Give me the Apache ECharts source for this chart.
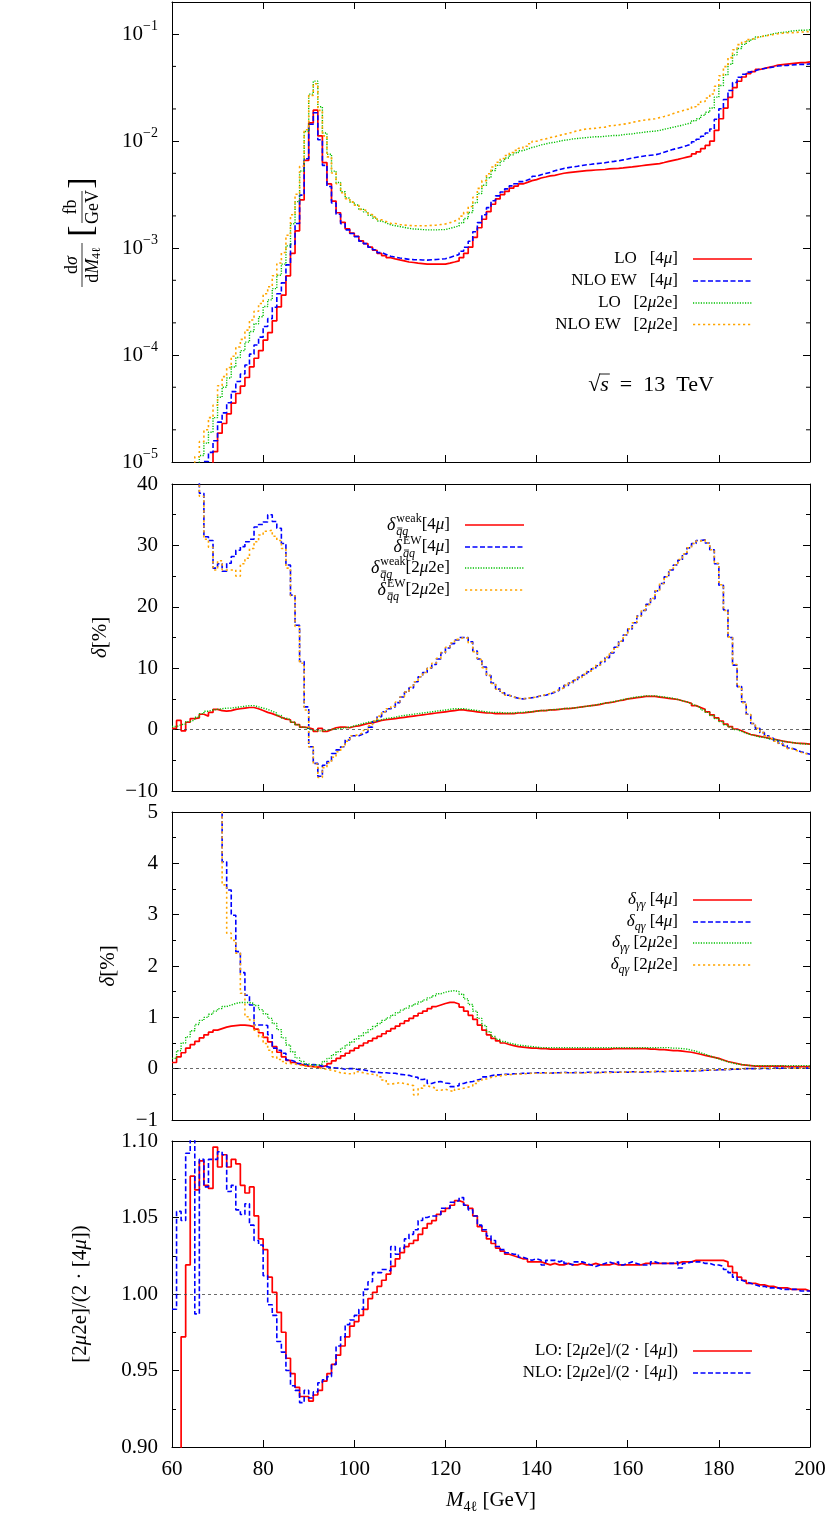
<!DOCTYPE html>
<html>
<head>
<meta charset="utf-8">
<script src="https://cdn.jsdelivr.net/npm/echarts@6/dist/echarts.min.js"></script>
<style>
html, body { margin: 0; padding: 0; background: #fff; }
#chart { width: 830px; height: 1517px; }
</style>
</head>
<body>
<div id="chart"></div>
<script>
// bin lower edges, 1 GeV bins from 60 to 200 GeV
const massEdges = Array.from({ length: 141 }, (_, i) => 60 + i);

// panel 1: dsigma/dM4l [fb/GeV]
const loFourMu = [
  2.0e-6, 2.5e-6, 3.2e-6, 3.9e-6, 4.5e-6, 5.2e-6, 6.3e-6, 7.7e-6, 9.4e-6, 1.25e-5,
  1.86e-5, 2.29e-5, 2.82e-5, 3.55e-5, 4.37e-5, 5.13e-5, 6.17e-5, 7.76e-5, 9.33e-5, 1.10e-4,
  1.38e-4, 1.62e-4, 2.09e-4, 2.82e-4, 3.63e-4, 5.50e-4, 8.91e-4, 1.45e-3, 2.82e-3, 6.61e-3,
  1.48e-2, 1.95e-2, 1.12e-2, 6.31e-3, 3.98e-3, 2.75e-3, 2.14e-3, 1.74e-3, 1.51e-3, 1.38e-3,
  1.29e-3, 1.17e-3, 1.10e-3, 1.02e-3, 9.55e-4, 8.91e-4, 8.51e-4, 8.13e-4, 7.94e-4, 7.76e-4,
  7.59e-4, 7.41e-4, 7.33e-4, 7.24e-4, 7.16e-4, 7.08e-4, 7.08e-4, 7.08e-4, 7.08e-4, 7.08e-4,
  7.24e-4, 7.41e-4, 7.59e-4, 8.13e-4, 8.91e-4, 1.02e-3, 1.26e-3, 1.55e-3, 1.86e-3, 2.19e-3,
  2.57e-3, 2.88e-3, 3.16e-3, 3.39e-3, 3.63e-3, 3.80e-3, 3.98e-3, 4.12e-3, 4.27e-3, 4.37e-3,
  4.52e-3, 4.62e-3, 4.73e-3, 4.79e-3, 4.90e-3, 5.01e-3, 5.07e-3, 5.13e-3, 5.19e-3, 5.25e-3,
  5.31e-3, 5.34e-3, 5.37e-3, 5.40e-3, 5.43e-3, 5.50e-3, 5.53e-3, 5.56e-3, 5.62e-3, 5.69e-3,
  5.75e-3, 5.82e-3, 5.89e-3, 5.96e-3, 6.03e-3, 6.10e-3, 6.17e-3, 6.31e-3, 6.46e-3, 6.61e-3,
  6.76e-3, 6.92e-3, 7.08e-3, 7.24e-3, 7.59e-3, 7.94e-3, 8.51e-3, 9.12e-3, 1.00e-2, 1.26e-2,
  1.62e-2, 2.04e-2, 2.57e-2, 3.16e-2, 3.63e-2, 3.98e-2, 4.27e-2, 4.47e-2, 4.68e-2, 4.79e-2,
  4.90e-2, 5.01e-2, 5.13e-2, 5.19e-2, 5.25e-2, 5.31e-2, 5.37e-2, 5.43e-2, 5.43e-2, 5.50e-2
];
const nloFourMu = [
  3.4e-6, 4.05e-6, 4.96e-6, 5.85e-6, 6.5e-6, 7.3e-6, 8.7e-6, 1.01e-5, 1.23e-5, 1.58e-5,
  2.36e-5, 2.88e-5, 3.58e-5, 4.55e-5, 5.65e-5, 6.66e-5, 8.06e-5, 1.02e-4, 1.24e-4, 1.47e-4,
  1.85e-4, 2.19e-4, 2.80e-4, 3.74e-4, 4.73e-4, 6.97e-4, 1.09e-3, 1.70e-3, 3.13e-3, 6.85e-3,
  1.44e-2, 1.84e-2, 1.03e-2, 5.94e-3, 3.77e-3, 2.64e-3, 2.07e-3, 1.69e-3, 1.48e-3, 1.37e-3,
  1.28e-3, 1.16e-3, 1.10e-3, 1.02e-3, 9.66e-4, 9.08e-4, 8.73e-4, 8.39e-4, 8.22e-4, 8.09e-4,
  7.97e-4, 7.85e-4, 7.81e-4, 7.78e-4, 7.75e-4, 7.72e-4, 7.77e-4, 7.82e-4, 7.88e-4, 7.95e-4,
  8.18e-4, 8.45e-4, 8.70e-4, 9.35e-4, 1.02e-3, 1.16e-3, 1.42e-3, 1.73e-3, 2.05e-3, 2.39e-3,
  2.77e-3, 3.08e-3, 3.35e-3, 3.58e-3, 3.82e-3, 3.99e-3, 4.18e-3, 4.33e-3, 4.49e-3, 4.69e-3,
  4.86e-3, 4.98e-3, 5.10e-3, 5.28e-3, 5.42e-3, 5.56e-3, 5.66e-3, 5.74e-3, 5.83e-3, 5.93e-3,
  6.02e-3, 6.08e-3, 6.15e-3, 6.21e-3, 6.27e-3, 6.40e-3, 6.47e-3, 6.55e-3, 6.68e-3, 6.80e-3,
  6.94e-3, 7.08e-3, 7.19e-3, 7.30e-3, 7.38e-3, 7.45e-3, 7.62e-3, 7.87e-3, 8.13e-3, 8.38e-3,
  8.60e-3, 8.82e-3, 9.09e-3, 9.38e-3, 9.88e-3, 1.04e-2, 1.11e-2, 1.19e-2, 1.30e-2, 1.60e-2,
  2.01e-2, 2.45e-2, 2.98e-2, 3.54e-2, 3.96e-2, 4.22e-2, 4.42e-2, 4.55e-2, 4.71e-2, 4.78e-2,
  4.86e-2, 4.94e-2, 5.04e-2, 5.08e-2, 5.11e-2, 5.15e-2, 5.19e-2, 5.23e-2, 5.22e-2, 5.28e-2
];
const loTwoMuTwoE = [
  2.0e-6, 2.7e-6, 3.9e-6, 5.2e-6, 6.8e-6, 8.6e-6, 1.15e-5, 1.50e-5, 1.90e-5, 2.60e-5,
  4.03e-5, 5.00e-5, 6.11e-5, 7.72e-5, 9.48e-5, 1.10e-4, 1.32e-4, 1.66e-4, 1.96e-4, 2.28e-4,
  2.84e-4, 3.28e-4, 4.18e-4, 5.57e-4, 7.08e-4, 1.05e-3, 1.69e-3, 2.72e-3, 5.26e-3, 1.23e-2,
  2.75e-2, 3.64e-2, 2.10e-2, 1.19e-2, 7.55e-3, 5.25e-3, 4.11e-3, 3.36e-3, 2.94e-3, 2.70e-3,
  2.53e-3, 2.31e-3, 2.18e-3, 2.03e-3, 1.91e-3, 1.79e-3, 1.72e-3, 1.65e-3, 1.62e-3, 1.59e-3,
  1.56e-3, 1.53e-3, 1.51e-3, 1.50e-3, 1.49e-3, 1.48e-3, 1.48e-3, 1.48e-3, 1.49e-3, 1.49e-3,
  1.53e-3, 1.57e-3, 1.61e-3, 1.72e-3, 1.89e-3, 2.15e-3, 2.65e-3, 3.24e-3, 3.87e-3, 4.54e-3,
  5.31e-3, 5.93e-3, 6.50e-3, 6.96e-3, 7.44e-3, 7.78e-3, 8.14e-3, 8.43e-3, 8.72e-3, 8.92e-3,
  9.23e-3, 9.42e-3, 9.64e-3, 9.77e-3, 9.99e-3, 1.02e-2, 1.03e-2, 1.05e-2, 1.06e-2, 1.07e-2,
  1.08e-2, 1.09e-2, 1.10e-2, 1.10e-2, 1.11e-2, 1.12e-2, 1.13e-2, 1.13e-2, 1.15e-2, 1.16e-2,
  1.17e-2, 1.19e-2, 1.20e-2, 1.22e-2, 1.23e-2, 1.24e-2, 1.26e-2, 1.29e-2, 1.32e-2, 1.35e-2,
  1.38e-2, 1.41e-2, 1.45e-2, 1.48e-2, 1.55e-2, 1.62e-2, 1.74e-2, 1.86e-2, 2.04e-2, 2.58e-2,
  3.31e-2, 4.17e-2, 5.23e-2, 6.41e-2, 7.34e-2, 8.03e-2, 8.60e-2, 9.00e-2, 9.42e-2, 9.64e-2,
  9.85e-2, 1.01e-1, 1.03e-1, 1.04e-1, 1.05e-1, 1.07e-1, 1.08e-1, 1.09e-1, 1.09e-1, 1.10e-1
];
const nloTwoMuTwoE = [
  3.5e-6, 4.5e-6, 5.8e-6, 7.2e-6, 8.8e-6, 1.12e-5, 1.55e-5, 2.00e-5, 2.60e-5, 3.40e-5,
  5.16e-5, 6.28e-5, 7.64e-5, 9.75e-5, 1.19e-4, 1.40e-4, 1.71e-4, 2.13e-4, 2.57e-4, 3.03e-4,
  3.74e-4, 4.35e-4, 5.52e-4, 7.25e-4, 9.10e-4, 1.32e-3, 2.05e-3, 3.19e-3, 5.82e-3, 1.28e-2,
  2.68e-2, 3.44e-2, 1.94e-2, 1.12e-2, 7.13e-3, 5.04e-3, 4.00e-3, 3.29e-3, 2.90e-3, 2.69e-3,
  2.52e-3, 2.30e-3, 2.21e-3, 2.06e-3, 1.96e-3, 1.84e-3, 1.77e-3, 1.70e-3, 1.70e-3, 1.66e-3,
  1.64e-3, 1.63e-3, 1.62e-3, 1.62e-3, 1.62e-3, 1.62e-3, 1.63e-3, 1.64e-3, 1.66e-3, 1.68e-3,
  1.73e-3, 1.79e-3, 1.85e-3, 1.99e-3, 2.16e-3, 2.45e-3, 2.98e-3, 3.62e-3, 4.27e-3, 4.96e-3,
  5.73e-3, 6.35e-3, 6.89e-3, 7.35e-3, 7.84e-3, 8.19e-3, 8.56e-3, 8.95e-3, 9.45e-3, 9.97e-3,
  1.03e-2, 1.05e-2, 1.08e-2, 1.10e-2, 1.13e-2, 1.16e-2, 1.18e-2, 1.22e-2, 1.25e-2, 1.28e-2,
  1.30e-2, 1.31e-2, 1.32e-2, 1.34e-2, 1.35e-2, 1.39e-2, 1.40e-2, 1.42e-2, 1.44e-2, 1.46e-2,
  1.50e-2, 1.53e-2, 1.56e-2, 1.58e-2, 1.60e-2, 1.62e-2, 1.66e-2, 1.70e-2, 1.75e-2, 1.81e-2,
  1.87e-2, 1.92e-2, 1.98e-2, 2.00e-2, 2.10e-2, 2.20e-2, 2.35e-2, 2.53e-2, 2.76e-2, 3.26e-2,
  4.09e-2, 4.98e-2, 6.04e-2, 7.16e-2, 7.99e-2, 8.51e-2, 8.90e-2, 9.15e-2, 9.47e-2, 9.61e-2,
  9.76e-2, 9.92e-2, 1.01e-1, 1.02e-1, 1.03e-1, 1.03e-1, 1.04e-1, 1.05e-1, 1.05e-1, 1.06e-1
];

// panel 2: delta_qq [%]
const weakFourMu = [
  0.2, 1.5, -0.2, 1.2, 1.8, 1.9, 2.5, 2.2, 2.8, 3.3,
  3.1, 3.0, 3.1, 3.3, 3.4, 3.5, 3.6, 3.6, 3.4, 3.1,
  2.8, 2.6, 2.3, 2.0, 1.7, 1.6, 1.2, 0.8, 0.4, 0.3,
  0.1, -0.3, 0.2, -0.3, 0.0, 0.3, 0.4, 0.4, 0.3, 0.5,
  0.6, 0.8, 1.0, 1.1, 1.3, 1.5, 1.6, 1.7, 1.8, 1.9,
  2.0, 2.1, 2.2, 2.3, 2.4, 2.5, 2.6, 2.7, 2.8, 2.9,
  3.0, 3.1, 3.2, 3.2, 3.1, 3.0, 2.9, 2.8, 2.7, 2.7,
  2.6, 2.6, 2.6, 2.6, 2.6, 2.7, 2.7, 2.8, 2.9, 3.0,
  3.1, 3.1, 3.2, 3.2, 3.3, 3.4, 3.4, 3.5, 3.6, 3.7,
  3.8, 3.9, 4.0, 4.1, 4.3, 4.4, 4.5, 4.7, 4.8, 5.0,
  5.1, 5.2, 5.3, 5.4, 5.4, 5.4, 5.3, 5.2, 5.1, 5.0,
  4.9, 4.7, 4.5, 4.3, 3.9, 3.6, 3.3, 2.9, 2.4, 1.9,
  1.4, 0.9, 0.5, 0.1, -0.2, -0.5, -0.8, -0.95, -1.1, -1.25,
  -1.4, -1.55, -1.7, -1.85, -2.0, -2.1, -2.2, -2.25, -2.3, -2.35
];
const ewFourMu = [
  70, 62, 55, 50, 45, 41, 38.5, 31.4, 30.8, 26.3,
  27.0, 25.8, 27.1, 28.2, 29.2, 29.8, 30.6, 31.0, 33.0, 33.4,
  33.8, 35.0, 33.9, 32.8, 30.3, 26.8, 21.9, 17.0, 11.1, 3.7,
  -2.8, -5.5, -7.6, -5.8, -5.2, -3.9, -3.3, -2.8, -1.7, -1.0,
  -1.0, -0.7, -0.4, 0.4, 1.3, 2.1, 2.9, 3.4, 3.7, 4.4,
  5.3, 6.1, 6.8, 7.8, 8.6, 9.3, 10.0, 10.6, 11.5, 12.5,
  13.3, 14.0, 14.6, 15.0, 15.0, 14.3, 12.8, 11.5, 10.2, 8.8,
  7.6, 6.6, 6.0, 5.6, 5.3, 5.1, 5.0, 5.1, 5.2, 5.3,
  5.5, 5.6, 5.8, 6.1, 6.4, 6.8, 7.2, 7.6, 8.0, 8.5,
  8.9, 9.4, 9.9, 10.4, 11.0, 11.7, 12.5, 13.4, 14.4, 15.4,
  16.4, 17.4, 18.5, 19.4, 20.4, 21.3, 22.6, 23.8, 24.9, 26.0,
  26.8, 27.6, 28.6, 29.6, 30.3, 30.8, 30.9, 30.4, 29.3, 27.0,
  23.5, 19.5, 15.0, 10.5, 7.0, 4.5, 2.5, 1.0, 0.2, -0.5,
  -1.0, -1.4, -1.8, -2.2, -2.6, -3.0, -3.3, -3.6, -3.8, -4.0
];
const weakTwoMuTwoE = [
  0.5, 0.8, 0.9, 1.3, 1.6, 2.0, 2.6, 3.0, 3.2, 3.3,
  3.4, 3.5, 3.5, 3.6, 3.7, 3.8, 3.9, 3.9, 3.7, 3.5,
  3.3, 3.0, 2.7, 2.3, 1.9, 1.6, 1.2, 0.8, 0.4, 0.1,
  -0.1, -0.2, -0.2, -0.1, 0.0, 0.1, 0.2, 0.3, 0.4, 0.6,
  0.8, 1.0, 1.2, 1.3, 1.5, 1.6, 1.8, 1.9, 2.0, 2.2,
  2.3, 2.4, 2.5, 2.6, 2.7, 2.8, 2.9, 3.0, 3.1, 3.2,
  3.3, 3.4, 3.4, 3.4, 3.3, 3.2, 3.1, 3.0, 2.9, 2.8,
  2.8, 2.8, 2.7, 2.7, 2.7, 2.8, 2.8, 2.9, 2.9, 3.0,
  3.1, 3.1, 3.2, 3.3, 3.3, 3.4, 3.5, 3.5, 3.6, 3.7,
  3.8, 3.9, 4.0, 4.2, 4.3, 4.4, 4.6, 4.7, 4.9, 5.0,
  5.2, 5.3, 5.4, 5.5, 5.5, 5.5, 5.4, 5.3, 5.2, 5.1,
  4.9, 4.7, 4.5, 4.2, 3.9, 3.6, 3.2, 2.8, 2.3, 1.8,
  1.3, 0.8, 0.4, 0.0, -0.3, -0.6, -0.8, -1.0, -1.2, -1.3,
  -1.5, -1.6, -1.75, -1.9, -2.0, -2.1, -2.2, -2.3, -2.35, -2.4
];
const ewTwoMuTwoE = [
  68, 60, 53, 48, 44, 41, 38.0, 31.0, 29.7, 26.0,
  27.5, 26.0, 26.0, 26.0, 25.0, 27.0, 27.9, 29.5, 30.6, 31.7,
  32.3, 32.5, 31.5, 30.8, 29.5, 26.3, 21.8, 16.8, 10.8, 3.2,
  -2.8, -5.6, -7.8, -6.2, -5.4, -4.5, -3.6, -2.8, -1.9, -1.0,
  -0.8, -0.5, -0.1, 0.6, 1.4, 2.2, 2.9, 3.4, 3.8, 4.5,
  5.3, 6.1, 6.9, 7.8, 8.6, 9.3, 10.1, 10.8, 11.6, 12.6,
  13.4, 14.1, 14.7, 15.0, 14.9, 14.1, 12.7, 11.4, 10.1, 8.8,
  7.5, 6.6, 6.0, 5.6, 5.3, 5.1, 5.0, 5.1, 5.2, 5.3,
  5.5, 5.7, 5.9, 6.2, 6.5, 6.8, 7.2, 7.7, 8.1, 8.5,
  9.0, 9.5, 10.0, 10.5, 11.1, 11.8, 12.6, 13.4, 14.4, 15.4,
  16.4, 17.4, 18.5, 19.5, 20.4, 21.4, 22.6, 23.8, 24.9, 26.0,
  26.8, 27.7, 28.6, 29.6, 30.3, 30.7, 30.9, 30.4, 29.3, 27.1,
  23.6, 19.4, 15.1, 10.6, 7.0, 4.4, 2.5, 1.0, 0.2, -0.5,
  -1.0, -1.5, -1.9, -2.3, -2.7, -3.1, -3.4, -3.7, -3.9, -4.1
];

// panel 3: photon-induced corrections [%]
const gamGamFourMu = [
  0.12, 0.23, 0.31, 0.40, 0.47, 0.53, 0.60, 0.66, 0.71, 0.75,
  0.78, 0.81, 0.83, 0.84, 0.85, 0.85, 0.84, 0.82, 0.77, 0.70,
  0.61, 0.52, 0.43, 0.32, 0.23, 0.16, 0.12, 0.09, 0.07, 0.05,
  0.04, 0.03, 0.04, 0.06, 0.10, 0.15, 0.20, 0.25, 0.30, 0.35,
  0.40, 0.45, 0.50, 0.54, 0.59, 0.63, 0.68, 0.73, 0.78, 0.83,
  0.88, 0.93, 0.98, 1.03, 1.08, 1.12, 1.17, 1.21, 1.24, 1.27,
  1.29, 1.29, 1.26, 1.20, 1.12, 1.04, 0.96, 0.85, 0.75, 0.66,
  0.59, 0.54, 0.50, 0.47, 0.45, 0.43, 0.42, 0.41, 0.40, 0.40,
  0.39, 0.39, 0.38, 0.38, 0.38, 0.38, 0.38, 0.38, 0.38, 0.38,
  0.38, 0.38, 0.38, 0.38, 0.38, 0.38, 0.39, 0.39, 0.39, 0.39,
  0.39, 0.39, 0.39, 0.39, 0.38, 0.38, 0.37, 0.37, 0.36, 0.35,
  0.35, 0.34, 0.33, 0.32, 0.30, 0.28, 0.26, 0.24, 0.22, 0.20,
  0.17, 0.14, 0.12, 0.10, 0.08, 0.07, 0.06, 0.05, 0.05, 0.05,
  0.05, 0.05, 0.05, 0.05, 0.04, 0.04, 0.04, 0.04, 0.04, 0.04
];
const qGamFourMu = [
  30, 25, 20, 16, 13, 11, 9.5, 8.2, 7.0, 6.0,
  5.2, 4.03, 3.48, 2.99, 2.28, 1.87, 1.43, 1.24, 0.85, 0.85,
  0.84, 0.66, 0.40, 0.36, 0.30, 0.17, 0.14, 0.10, 0.09, 0.07,
  0.08, 0.07, 0.05, 0.04, 0.02, 0.01, 0.01, -0.01, 0.00, 0.00,
  -0.02, -0.02, -0.04, -0.06, -0.07, -0.08, -0.08, -0.09, -0.09, -0.11,
  -0.12, -0.13, -0.16, -0.17, -0.21, -0.20, -0.29, -0.26, -0.25, -0.28,
  -0.29, -0.35, -0.33, -0.29, -0.26, -0.25, -0.22, -0.20, -0.16, -0.14,
  -0.12, -0.12, -0.11, -0.11, -0.10, -0.10, -0.09, -0.09, -0.09, -0.08,
  -0.08, -0.08, -0.09, -0.08, -0.08, -0.07, -0.08, -0.08, -0.07, -0.08,
  -0.07, -0.07, -0.08, -0.07, -0.07, -0.06, -0.07, -0.07, -0.06, -0.07,
  -0.06, -0.06, -0.07, -0.06, -0.06, -0.06, -0.05, -0.06, -0.05, -0.05,
  -0.05, -0.05, -0.04, -0.05, -0.04, -0.04, -0.03, -0.03, -0.03, -0.02,
  -0.02, -0.02, -0.01, -0.01, -0.01, 0.00, 0.00, 0.00, 0.00, 0.01,
  0.00, 0.01, 0.01, 0.01, 0.01, 0.01, 0.01, 0.01, 0.01, 0.01
];
const gamGamTwoMuTwoE = [
  0.20, 0.35, 0.50, 0.62, 0.74, 0.86, 0.94, 1.00, 1.06, 1.12,
  1.17, 1.21, 1.24, 1.27, 1.29, 1.29, 1.29, 1.27, 1.23, 1.15,
  1.07, 0.98, 0.88, 0.76, 0.60, 0.46, 0.33, 0.21, 0.14, 0.09,
  0.07, 0.07, 0.09, 0.14, 0.20, 0.27, 0.33, 0.40, 0.46, 0.52,
  0.58, 0.64, 0.70, 0.76, 0.82, 0.88, 0.94, 0.99, 1.04, 1.09,
  1.14, 1.18, 1.22, 1.26, 1.30, 1.34, 1.38, 1.42, 1.46, 1.49,
  1.51, 1.52, 1.50, 1.45, 1.36, 1.25, 1.12, 0.98, 0.84, 0.72,
  0.63, 0.57, 0.53, 0.50, 0.48, 0.46, 0.45, 0.44, 0.43, 0.42,
  0.41, 0.41, 0.41, 0.41, 0.41, 0.41, 0.41, 0.41, 0.41, 0.41,
  0.41, 0.41, 0.41, 0.41, 0.41, 0.41, 0.41, 0.41, 0.41, 0.41,
  0.41, 0.41, 0.41, 0.41, 0.41, 0.41, 0.41, 0.41, 0.41, 0.40,
  0.40, 0.39, 0.38, 0.36, 0.34, 0.31, 0.28, 0.25, 0.22, 0.19,
  0.16, 0.13, 0.11, 0.09, 0.08, 0.07, 0.06, 0.06, 0.06, 0.06,
  0.06, 0.06, 0.06, 0.06, 0.06, 0.06, 0.06, 0.06, 0.06, 0.06
];
const qGamTwoMuTwoE = [
  28, 23, 19, 15, 12.5, 10.5, 9.0, 7.8, 6.7, 5.8,
  5.1, 3.58, 2.64, 2.50, 2.25, 1.47, 1.01, 0.95, 0.75, 0.62,
  0.49, 0.36, 0.23, 0.18, 0.14, 0.10, 0.09, 0.07, 0.05, 0.05,
  0.04, 0.02, 0.00, -0.01, -0.03, -0.05, -0.08, -0.09, -0.10, -0.10,
  -0.06, -0.08, -0.10, -0.11, -0.12, -0.16, -0.22, -0.30, -0.29, -0.27,
  -0.29, -0.31, -0.33, -0.51, -0.38, -0.33, -0.36, -0.38, -0.42, -0.40,
  -0.43, -0.45, -0.40, -0.38, -0.36, -0.34, -0.29, -0.24, -0.20, -0.17,
  -0.15, -0.14, -0.12, -0.12, -0.11, -0.11, -0.10, -0.10, -0.09, -0.09,
  -0.09, -0.08, -0.09, -0.08, -0.09, -0.08, -0.08, -0.08, -0.08, -0.09,
  -0.08, -0.08, -0.07, -0.08, -0.07, -0.08, -0.07, -0.07, -0.07, -0.06,
  -0.07, -0.06, -0.06, -0.07, -0.06, -0.05, -0.06, -0.05, -0.05, -0.05,
  -0.05, -0.04, -0.05, -0.04, -0.04, -0.03, -0.03, -0.03, -0.02, -0.02,
  -0.02, -0.01, -0.01, -0.01, 0.00, 0.00, 0.00, 0.00, 0.01, 0.01,
  0.01, 0.01, 0.00, 0.01, 0.01, 0.01, 0.01, 0.01, 0.01, 0.01
];

// panel 4: [2mu2e] / (2 [4mu])
const ratioLO = [
  0.75, 0.82, 0.972, 1.019, 1.077, 1.068, 1.087, 1.071, 1.069, 1.096,
  1.083, 1.091, 1.083, 1.088, 1.085, 1.071, 1.066, 1.070, 1.051, 1.036,
  1.029, 1.011, 1.001, 0.988, 0.975, 0.958, 0.948, 0.939, 0.933, 0.933,
  0.930, 0.934, 0.937, 0.943, 0.948, 0.954, 0.960, 0.966, 0.972, 0.979,
  0.982, 0.986, 0.990, 0.997, 1.001, 1.005, 1.009, 1.013, 1.018, 1.023,
  1.027, 1.031, 1.033, 1.035, 1.039, 1.043, 1.046, 1.048, 1.052, 1.054,
  1.056, 1.058, 1.061, 1.060, 1.058, 1.056, 1.051, 1.044, 1.041, 1.036,
  1.033, 1.030, 1.028, 1.026, 1.025, 1.024, 1.023, 1.023, 1.021, 1.021,
  1.021, 1.020, 1.019, 1.020, 1.019, 1.019, 1.020, 1.019, 1.019, 1.020,
  1.019, 1.019, 1.020, 1.019, 1.019, 1.019, 1.020, 1.019, 1.019, 1.019,
  1.019, 1.019, 1.019, 1.020, 1.020, 1.020, 1.020, 1.020, 1.020, 1.020,
  1.020, 1.021, 1.021, 1.021, 1.022, 1.022, 1.022, 1.022, 1.022, 1.022,
  1.022, 1.021, 1.018, 1.014, 1.011, 1.009, 1.007, 1.007, 1.006, 1.006,
  1.005, 1.005, 1.004, 1.004, 1.004, 1.003, 1.003, 1.003, 1.003, 1.002
];
const ratioNLO = [
  0.990, 1.054, 1.048, 1.092, 1.101, 0.987, 1.088, 1.070, 1.088, 1.088,
  1.093, 1.091, 1.067, 1.071, 1.055, 1.052, 1.059, 1.045, 1.035, 1.032,
  1.012, 0.993, 0.986, 0.969, 0.962, 0.950, 0.940, 0.937, 0.929, 0.937,
  0.932, 0.936, 0.942, 0.944, 0.946, 0.954, 0.966, 0.972, 0.980, 0.983,
  0.986, 0.990, 1.003, 1.008, 1.014, 1.014, 1.016, 1.015, 1.031, 1.026,
  1.030, 1.036, 1.039, 1.042, 1.048, 1.050, 1.051, 1.051, 1.052, 1.056,
  1.056, 1.060, 1.061, 1.063, 1.058, 1.055, 1.051, 1.045, 1.042, 1.038,
  1.035, 1.031, 1.029, 1.027, 1.026, 1.026, 1.024, 1.023, 1.022, 1.023,
  1.022, 1.019, 1.022, 1.022, 1.021, 1.022, 1.020, 1.019, 1.021, 1.021,
  1.020, 1.019, 1.018, 1.019, 1.020, 1.021, 1.020, 1.021, 1.019, 1.020,
  1.021, 1.020, 1.019, 1.019, 1.019, 1.021, 1.020, 1.020, 1.020, 1.020,
  1.021, 1.017, 1.020, 1.021, 1.021, 1.021, 1.020, 1.020, 1.019, 1.019,
  1.018, 1.016, 1.014, 1.011, 1.009, 1.008, 1.007, 1.006, 1.005, 1.005,
  1.004, 1.004, 1.004, 1.003, 1.003, 1.003, 1.003, 1.002, 1.002, 1.002
];

// minor ticks of the log axis (2 and 5 per decade)
const logMinorTicks = [2e-5, 5e-5, 2e-4, 5e-4, 2e-3, 5e-3, 2e-2, 5e-2];

const FONT = '"Liberation Serif", "Times New Roman", serif';
const chart = echarts.init(document.getElementById('chart'));

// one histogram step line: each value is held over its 1 GeV bin
function histo(values) {
  const pts = values.map((v, i) => [massEdges[i], v]);
  pts.push([massEdges[values.length], values[values.length - 1]]);
  return pts;
}

const STY = {
  red:    { color: '#ff0000', width: 1.7, type: 'solid', dash: null },
  blue:   { color: '#0000ff', width: 1.6, type: [5, 2.5], dash: [5, 2.5] },
  green:  { color: '#00c000', width: 1.4, type: [1.2, 1.4], dash: [1.2, 1.4] },
  orange: { color: '#ffa500', width: 1.6, type: [2.2, 2.8], dash: [2.2, 2.8] }
};

function histSeries(name, values, panel, sty, extra) {
  return Object.assign({
    type: 'line', name: name, data: histo(values), step: 'end',
    xAxisIndex: panel * 2, yAxisIndex: panel * 2,
    showSymbol: false, symbol: 'none', clip: true, silent: true,
    lineStyle: { color: sty.color, width: sty.width, type: sty.type },
    itemStyle: { color: sty.color }
  }, extra || {});
}

function zeroLine(v) {
  return {
    markLine: {
      silent: true, symbol: 'none', label: { show: false }, animation: false,
      lineStyle: { color: '#444', type: [3, 3], width: 0.8 },
      data: [{ yAxis: v }]
    }
  };
}

const panels = [
  { top: 2, height: 460 },
  { top: 484, height: 307 },
  { top: 812, height: 308 },
  { top: 1141, height: 306 }
];

const richText = {
  i: { fontStyle: 'italic', fontSize: 21, fontFamily: FONT, lineHeight: 28 },
  sub: { fontSize: 14, fontFamily: FONT, verticalAlign: 'bottom', lineHeight: 13 },
  b: { fontSize: 21, fontFamily: FONT, lineHeight: 30 },
  s: { fontSize: 14, fontFamily: FONT, verticalAlign: 'top', lineHeight: 14 }
};

const lineCol = { color: '#000', width: 1 };
const grids = [], xAxes = [], yAxes = [];

panels.forEach((p, i) => {
  grids.push({ left: 172, right: 20, top: p.top, height: p.height, containLabel: false, outerBoundsMode: 'none' });
  const xBase = {
    gridIndex: i, type: 'value', min: 60, max: 200, interval: 20,
    axisLine: { show: true, onZero: false, lineStyle: lineCol },
    axisTick: { show: true, inside: true, length: 7, lineStyle: lineCol },
    splitLine: { show: false }
  };
  xAxes.push(Object.assign({}, xBase, {
    position: 'bottom',
    axisLabel: { show: i === 3, margin: 12, fontSize: 21, fontFamily: FONT, color: '#000' },
    name: i === 3 ? '{i|M}{sub|4ℓ} [GeV]' : '',
    nameLocation: 'middle', nameGap: 39,
    nameTextStyle: { fontSize: 21, fontFamily: FONT, color: '#000', lineHeight: 28, rich: richText }
  }));
  xAxes.push(Object.assign({}, xBase, { position: 'top', axisLabel: { show: false } }));
});

function minusFmt(v) { return v < 0 ? '−' + Math.abs(v) : String(v); }
function powLabel(v) {
  const lg = Math.log10(v), e = Math.round(lg);
  if (Math.abs(lg - e) > 1e-6) return '';
  return '{b|10}{s|−' + (-e) + '}';
}

const yScales = [
  { type: 'log', logBase: 10, min: 1e-5, max: 0.2, fmt: powLabel, minor: false },
  { type: 'value', min: -10, max: 40, interval: 10, fmt: minusFmt, minor: true,
    name: '{i|δ}[%]', gap: 50 },
  { type: 'value', min: -1, max: 5, interval: 1, fmt: minusFmt, minor: true,
    name: '{i|δ}[%]', gap: 50 },
  { type: 'value', min: 0.9, max: 1.1, interval: 0.05, fmt: v => v.toFixed(2), minor: true,
    name: '[2{i|μ}2e]/(2 · [4{i|μ}])', gap: 78 }
];

yScales.forEach((s, i) => {
  const yBase = {
    gridIndex: i, type: s.type, min: s.min, max: s.max,
    axisLine: { show: true, onZero: false, lineStyle: lineCol },
    axisTick: { show: true, inside: true, length: 7, lineStyle: lineCol },
    minorTick: { show: s.minor, splitNumber: 2, length: 4, lineStyle: lineCol },
    splitLine: { show: false }
  };
  if (s.type === 'log') yBase.logBase = 10;
  if (s.interval) yBase.interval = s.interval;
  yAxes.push(Object.assign({}, yBase, {
    position: 'left',
    axisLabel: { show: true, margin: 14, fontSize: 21, fontFamily: FONT, color: '#000',
      formatter: s.fmt, rich: richText, hideOverlap: false },
    name: s.name || '', nameLocation: 'middle', nameRotate: 90, nameGap: s.gap || 0,
    nameTextStyle: { fontSize: 21, fontFamily: FONT, color: '#000', lineHeight: 28, rich: richText }
  }));
  yAxes.push(Object.assign({}, yBase, { position: 'right', axisLabel: { show: false } }));
});

const series = [
  histSeries('LO [4μ]', loFourMu, 0, STY.red),
  histSeries('NLO EW [4μ]', nloFourMu, 0, STY.blue),
  histSeries('LO [2μ2e]', loTwoMuTwoE, 0, STY.green),
  histSeries('NLO EW [2μ2e]', nloTwoMuTwoE, 0, STY.orange),

  histSeries('weak [4μ]', weakFourMu, 1, STY.red, zeroLine(0)),
  histSeries('EW [4μ]', ewFourMu, 1, STY.blue),
  histSeries('weak [2μ2e]', weakTwoMuTwoE, 1, STY.green),
  histSeries('EW [2μ2e]', ewTwoMuTwoE, 1, STY.orange),

  histSeries('γγ [4μ]', gamGamFourMu, 2, STY.red, zeroLine(0)),
  histSeries('qγ [4μ]', qGamFourMu, 2, STY.blue),
  histSeries('γγ [2μ2e]', gamGamTwoMuTwoE, 2, STY.green),
  histSeries('qγ [2μ2e]', qGamTwoMuTwoE, 2, STY.orange),

  histSeries('LO ratio', ratioLO, 3, STY.red, zeroLine(1)),
  histSeries('NLO ratio', ratioNLO, 3, STY.blue),

  {
    type: 'custom', xAxisIndex: 0, yAxisIndex: 0, silent: true, clip: false,
    data: logMinorTicks.map(v => [60, v]),
    renderItem: (params, api) => {
      const v = api.value(1);
      const pL = api.coord([60, v]);
      const pR = api.coord([200, v]);
      return {
        type: 'group', children: [
          { type: 'line', shape: { x1: pL[0], y1: pL[1], x2: pL[0] + 4, y2: pL[1] }, style: { stroke: '#000', lineWidth: 1 } },
          { type: 'line', shape: { x1: pR[0] - 4, y1: pR[1], x2: pR[0], y2: pR[1] }, style: { stroke: '#000', lineWidth: 1 } }
        ]
      };
    }
  }
];

// legends and decorations
const ctx = document.createElement('canvas').getContext('2d');
function textW(str, size, italic) {
  ctx.font = (italic ? 'italic ' : '') + size + 'px ' + FONT;
  return ctx.measureText(str).width;
}
const LEG = 17;
const legRich = {
  i: { fontStyle: 'italic', fontSize: LEG, fontFamily: FONT, lineHeight: 22 },
  sub: { fontStyle: 'italic', fontSize: 12, fontFamily: FONT, verticalAlign: 'bottom', lineHeight: 11 }
};
function legText(x, y, text) {
  return { type: 'text', x: x, y: y, silent: true, style: {
    text: text, fill: '#000', fontSize: LEG, fontFamily: FONT, lineHeight: 22,
    align: 'right', verticalAlign: 'middle', rich: legRich } };
}
function legLine(x1, x2, y, sty) {
  return { type: 'line', silent: true, shape: { x1: x1, y1: y, x2: x2, y2: y },
    style: { stroke: sty.color, lineWidth: sty.width, lineDash: sty.dash } };
}

const graphics = [];
const legendOne = [
  ['LO   [4{i|μ}]', STY.red], ['NLO EW   [4{i|μ}]', STY.blue],
  ['LO   [2{i|μ}2e]', STY.green], ['NLO EW   [2{i|μ}2e]', STY.orange]
];
[259, 281, 303, 324.5].forEach((y, k) => {
  graphics.push(legText(678, y, legendOne[k][0]), legLine(693, 752, y, legendOne[k][1]));
});

const legendThree = [
  ['{i|δ}{sub|γγ} [4{i|μ}]', STY.red], ['{i|δ}{sub|qγ} [4{i|μ}]', STY.blue],
  ['{i|δ}{sub|γγ} [2{i|μ}2e]', STY.green], ['{i|δ}{sub|qγ} [2{i|μ}2e]', STY.orange]
];
[900, 922, 943, 965].forEach((y, k) => {
  graphics.push(legText(678, y, legendThree[k][0]), legLine(693, 752, y, legendThree[k][1]));
});

const legendFour = [
  ['LO: [2{i|μ}2e]/(2 · [4{i|μ}])', STY.red], ['NLO: [2{i|μ}2e]/(2 · [4{i|μ}])', STY.blue]
];
[1351, 1373].forEach((y, k) => {
  graphics.push(legText(678, y, legendFour[k][0]), legLine(693, 752, y, legendFour[k][1]));
});

// panel 2 legend: delta with stacked super- and subscript (q-bar q)
const legendTwo = [
  ['weak', '[4', '[4{i|μ}]', ']', STY.red],
  ['EW', '[4', '[4{i|μ}]', ']', STY.blue],
  ['weak', '[2', '[2{i|μ}2e]', '2e]', STY.green],
  ['EW', '[2', '[2{i|μ}2e]', '2e]', STY.orange]
];
[525, 547, 568, 590].forEach((y, k) => {
  const e = legendTwo[k];
  const xr = 450;
  const tailW = textW(e[1], LEG) + textW('μ', LEG, true) + textW(e[3], LEG);
  const scriptW = Math.max(textW(e[0], 12), textW('qq', 12, true));
  const xs = xr - tailW - scriptW - 1;
  const qW = textW('q', 12, true);
  graphics.push(legText(xr, y, e[2]));
  graphics.push({ type: 'text', x: xs, y: y, silent: true, style: { text: 'δ', fill: '#000', fontSize: 18,
    fontStyle: 'italic', fontFamily: FONT, align: 'right', verticalAlign: 'middle' } });
  graphics.push({ type: 'text', x: xs + 1, y: y - 6, silent: true, style: { text: e[0], fill: '#000', fontSize: 12,
    fontFamily: FONT, align: 'left', verticalAlign: 'middle' } });
  graphics.push({ type: 'text', x: xs + 1, y: y + 7, silent: true, style: { text: 'qq', fill: '#000', fontSize: 12,
    fontStyle: 'italic', fontFamily: FONT, align: 'left', verticalAlign: 'middle' } });
  graphics.push({ type: 'line', silent: true, shape: { x1: xs + 2, y1: y + 3, x2: xs + 1 + qW, y2: y + 3 },
    style: { stroke: '#000', lineWidth: 0.8 } });
  graphics.push(legLine(465, 524, y, e[4]));
});

// sqrt(s) = 13 TeV
(function () {
  const sz = 22;
  const rest = '  =  13  TeV';
  const w = textW('√', sz) + textW('s', sz, true) + textW(rest, sz);
  const x0 = 651 - w / 2;
  const xs = x0 + textW('√', sz);
  graphics.push({ type: 'text', x: x0, y: 385, silent: true, style: {
    text: '√{i|s}' + rest, fill: '#000', fontSize: sz, fontFamily: FONT, align: 'left', verticalAlign: 'middle',
    rich: { i: { fontStyle: 'italic', fontSize: sz, fontFamily: FONT } } } });
  graphics.push({ type: 'line', silent: true, shape: { x1: xs - 1, y1: 374, x2: xs + textW('s', sz, true) + 1, y2: 374 },
    style: { stroke: '#000', lineWidth: 0.9 } });
})();

// panel 1 y title: dsigma/dM4l [fb/GeV], rotated
const fracRich = {
  i: { fontStyle: 'italic', fontSize: 18, fontFamily: FONT },
  sub: { fontSize: 12, fontFamily: FONT, verticalAlign: 'bottom', lineHeight: 10 }
};
function tText(x, y, text, size) {
  return { type: 'text', x: x, y: y, silent: true, style: { text: text, fill: '#000', fontSize: size || 18,
    fontFamily: FONT, lineHeight: 20, align: 'center', verticalAlign: 'middle', rich: fracRich } };
}
graphics.push({
  type: 'group', x: 82, y: 233, rotation: Math.PI / 2, silent: true,
  children: [
    tText(-32, -10, 'd{i|σ}'),
    { type: 'line', shape: { x1: -54, y1: 0, x2: -10, y2: 0 }, style: { stroke: '#000', lineWidth: 0.8 } },
    tText(-32, 11, 'd{i|M}{sub|4ℓ}'),
    tText(2, 0, '[', 34),
    tText(26, -11, 'fb'),
    { type: 'line', shape: { x1: 10, y1: 0, x2: 42, y2: 0 }, style: { stroke: '#000', lineWidth: 0.8 } },
    tText(26, 11, 'GeV'),
    tText(50, 0, ']', 34)
  ]
});

chart.setOption({
  animation: false,
  backgroundColor: '#fff',
  grid: grids,
  xAxis: xAxes,
  yAxis: yAxes,
  series: series,
  graphic: graphics
});
</script>
</body>
</html>
